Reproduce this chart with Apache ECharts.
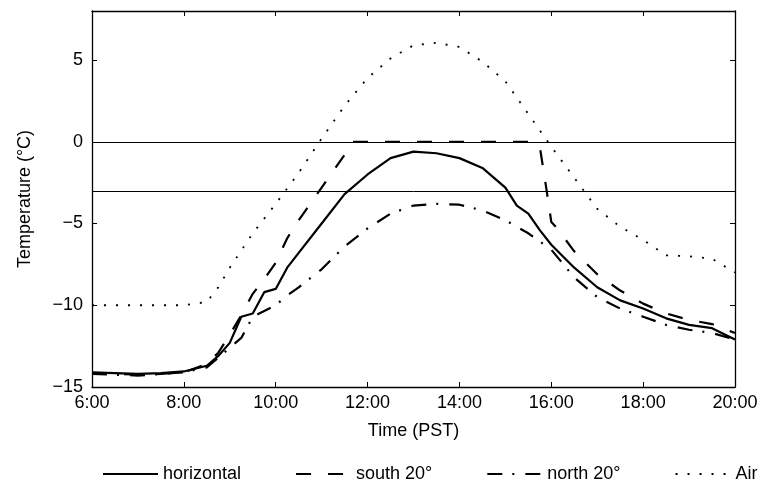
<!DOCTYPE html>
<html>
<head>
<meta charset="utf-8">
<script src="https://cdn.jsdelivr.net/npm/echarts@6/dist/echarts.min.js"></script>
<style>
  html, body { margin: 0; padding: 0; background: #fff; }
  #chart { width: 766px; height: 485px; }
</style>
</head>
<body>
<div id="chart"></div>
<script>
// ── Data (hours after midnight, °C) ─────────────────────────────────────
const horizontal = [
  [6.0, -14.1], [6.5, -14.15], [7.0, -14.2], [7.5, -14.15], [8.0, -14.05],
  [8.5, -13.7], [8.75, -13.1], [9.0, -12.3], [9.25, -10.7], [9.5, -10.5],
  [9.75, -9.2], [10.0, -9.0], [10.25, -7.7], [10.5, -6.8], [11.0, -5.0],
  [11.5, -3.2], [12.0, -2.0], [12.5, -1.0], [13.0, -0.6], [13.5, -0.7],
  [14.0, -1.0], [14.5, -1.6], [15.0, -2.8], [15.25, -3.9], [15.5, -4.4],
  [15.75, -5.4], [16.0, -6.3], [16.5, -7.7], [17.0, -8.9], [17.5, -9.7],
  [18.0, -10.2], [18.5, -10.8], [19.0, -11.2], [19.5, -11.4], [20.0, -12.1]
];
const south20 = [
  [6.0, -14.2], [6.5, -14.2], [7.0, -14.25], [7.5, -14.2], [8.0, -14.1],
  [8.5, -13.6], [8.75, -12.9], [9.0, -11.8], [9.25, -10.6], [9.5, -9.3],
  [9.75, -8.4], [10.0, -7.4], [10.25, -5.9], [10.5, -4.8], [11.0, -2.8],
  [11.25, -1.8], [11.5, -0.8], [11.65, 0], [12.0, 0], [13.0, 0], [14.0, 0],
  [15.0, 0], [15.6, 0], [15.75, -0.3], [15.9, -3.0], [16.0, -4.9],
  [16.1, -5.2], [16.5, -6.7], [17.0, -8.1], [17.5, -9.1], [18.0, -9.9],
  [18.5, -10.5], [19.0, -10.9], [19.5, -11.15], [20.0, -11.7]
];
const north20 = [
  [6.0, -14.2], [6.5, -14.25], [7.0, -14.3], [7.5, -14.2], [8.0, -14.1],
  [8.5, -13.8], [8.75, -13.2], [9.0, -12.6], [9.25, -12.0], [9.5, -10.7],
  [10.0, -10.0], [10.25, -9.4], [10.5, -8.9], [11.0, -7.8], [11.5, -6.4],
  [12.0, -5.3], [12.5, -4.4], [13.0, -3.9], [13.5, -3.8], [14.0, -3.85],
  [14.5, -4.2], [15.0, -4.8], [15.5, -5.6], [16.0, -6.6], [16.5, -8.3],
  [17.0, -9.5], [17.5, -10.2], [18.0, -10.7], [18.5, -11.2], [19.0, -11.5],
  [19.5, -11.7], [20.0, -12.1]
];
const air = [
  [6.0, -10], [7.0, -10], [8.0, -10], [8.5, -9.8], [8.75, -8.9], [9.0, -7.7],
  [9.5, -5.6], [10.0, -3.8], [10.5, -1.9], [11.0, 0.2], [11.5, 2.2],
  [12.0, 3.9], [12.5, 5.1], [13.0, 5.9], [13.5, 6.05], [14.0, 5.8],
  [14.5, 4.9], [15.0, 3.7], [15.5, 1.7], [16.0, -0.3], [16.5, -2.2],
  [17.0, -4.1], [17.5, -5.2], [18.0, -6.0], [18.5, -6.95], [19.0, -7.0],
  [19.5, -7.15], [20.0, -8.0]
];
const refLines = [0, -3];
const yTicks = [-15, -10, -5, 0, 5];
const xTicks = [6, 8, 10, 12, 14, 16, 18, 20];

const font = 'Liberation Sans, Arial, sans-serif';
const ink = '#000';

const baseX = {
  type: 'value', min: 6, max: 20,
  axisLine: { show: true, onZero: false, lineStyle: { color: ink, width: 1.3 } },
  axisTick: { show: true, inside: true, length: 5, customValues: xTicks, lineStyle: { color: ink } },
  splitLine: { show: false }
};
const baseY = {
  type: 'value', min: -15, max: 8,
  axisLine: { show: true, onZero: false, lineStyle: { color: ink, width: 1.3 } },
  axisTick: { show: true, inside: true, length: 5, customValues: yTicks, lineStyle: { color: ink } },
  splitLine: { show: false }
};

function line(name, data, type, width) {
  return {
    name, type: 'line', data, symbol: 'none', showSymbol: false,
    lineStyle: { color: ink, width, type },
    itemStyle: { color: ink },
    z: 3
  };
}

const series = [
  line('horizontal', horizontal, 'solid', 2.2),
  line('south 20°', south20, [15, 17], 2.2),
  line('north 20°', north20, [15, 10, 2, 11], 2.2),
  line('Air', air, [2, 10], 1.8)
];
series[0].markLine = {
  silent: true, symbol: 'none', animation: false,
  label: { show: false },
  lineStyle: { color: ink, width: 1, type: 'solid' },
  data: refLines.map(v => ({ yAxis: v }))
};

const chart = echarts.init(document.getElementById('chart'), null, { renderer: 'canvas' });
chart.setOption({
  animation: false,
  backgroundColor: '#fff',
  grid: { left: 92, right: 31, top: 11, bottom: 98 },
  xAxis: [
    Object.assign({}, baseX, {
      position: 'bottom',
      name: 'Time (PST)', nameLocation: 'middle', nameGap: 35,
      nameTextStyle: { fontFamily: font, fontSize: 18, color: ink },
      axisLabel: { customValues: xTicks, margin: 7, fontFamily: font, fontSize: 18, color: ink,
        formatter: v => v + ':00' }
    }),
    Object.assign({}, baseX, { position: 'top', axisLabel: { show: false } })
  ],
  yAxis: [
    Object.assign({}, baseY, {
      position: 'left',
      name: 'Temperature (°C)', nameLocation: 'middle', nameGap: 58,
      nameTextStyle: { fontFamily: font, fontSize: 18, color: ink },
      axisLabel: { customValues: yTicks, margin: 9, fontFamily: font, fontSize: 18, color: ink,
        formatter: v => v < 0 ? '\u2212' + Math.abs(v) : String(v) }
    }),
    Object.assign({}, baseY, { position: 'right', axisLabel: { show: false } })
  ],
  legend: {
    top: 460, left: 97, right: 0,
    itemWidth: 55, itemHeight: 14, itemGap: 54,
    itemStyle: { color: 'rgba(0,0,0,0)', borderColor: 'rgba(0,0,0,0)', borderWidth: 0, opacity: 0 },
    textStyle: { fontFamily: font, fontSize: 18, color: ink },
    data: ['horizontal', 'south 20°', 'north 20°', 'Air']
  },
  series
});
</script>
</body>
</html>
